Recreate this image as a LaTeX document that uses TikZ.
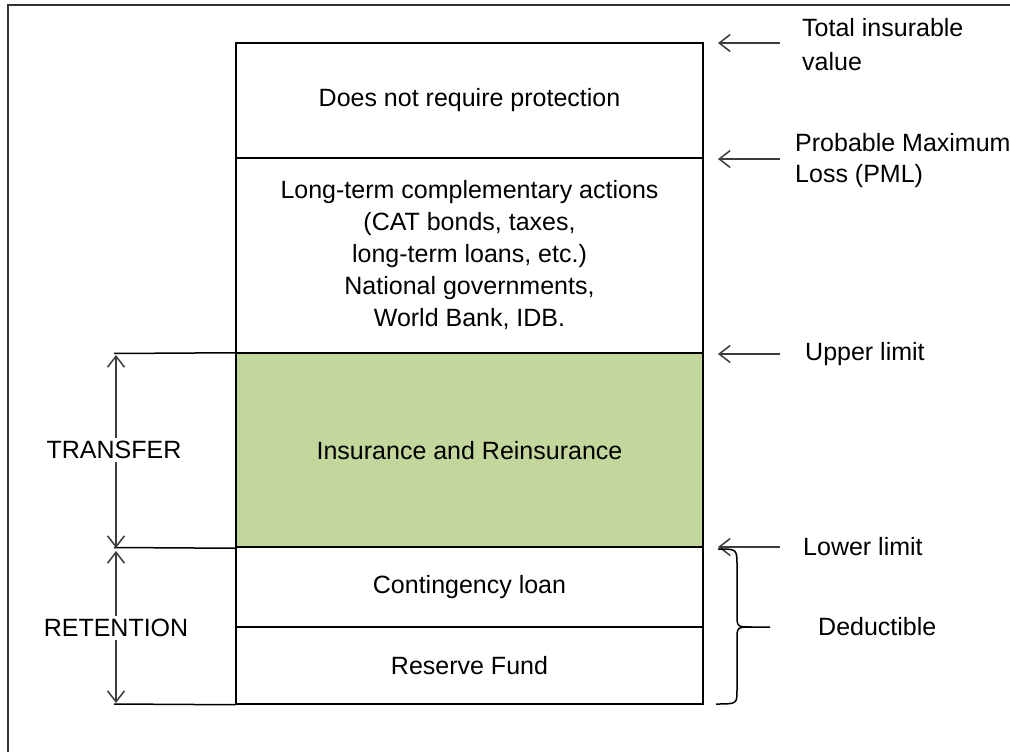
\documentclass[tikz,border=0pt]{standalone}
\usepackage{fontspec}
\setmainfont{Liberation Sans}
\usetikzlibrary{arrows.meta}
\definecolor{insgreen}{HTML}{C3D69B}
\definecolor{arrowgrey}{HTML}{3C3C3C}
\begin{document}
\begin{tikzpicture}[x=1pt,y=-1pt,
  every node/.style={font=\fontsize{25}{32}\selectfont},
  layer/.style={draw, line width=1.5, minimum width=467, inner sep=0, align=center},
  pointer/.style={draw=arrowgrey, line width=1.5, -{Straight Barb[length=11,width=17,line width=1.5]}},
  span/.style={draw=arrowgrey, line width=1.5, -{Straight Barb[length=11,width=17,line width=1.5]}},
  sidelabel/.style={anchor=west, align=left, inner sep=0},
  bracket/.style={draw, line width=1.5}]
\useasboundingbox (0,0) rectangle (1010,752);
% outer frame (runs off the page to the right and below)
\draw[line width=2, draw=black!80] (8,760) -- (8,5) -- (1020,5);

% stacked layers of the risk column
\node[layer, minimum height=115] (free) at (469.5,100.5) {Does not require protection};
\node[layer, minimum height=195] (lt) at (469.5,255.5)
  {Long-term complementary actions\\(CAT bonds, taxes,\\long-term loans, etc.)\\National governments,\\World Bank, IDB.};
\node[layer, minimum height=194, fill=insgreen] (ins) at (469.5,450.5) {Insurance and Reinsurance};
\node[layer, minimum height=80] (cont) at (469.5,587) {Contingency loan};
\node[layer, minimum height=77] (res) at (469.5,665.5) {Reserve Fund};

% left extension lines
\coordinate (lup) at (114,353.5);
\coordinate (lmid) at (114,547.5);
\coordinate (llow) at (114,704);
\draw[line width=1.5] (lup) -- (ins.north west);
\draw[line width=1.5] (lmid) -- (ins.south west);
\draw[line width=1.5] (llow) -- (res.south west);

% transfer / retention spans
\node (transfer) at (114,450) {TRANSFER};
\node (retention) at (116,628) {RETENTION};
\coordinate (tTop) at (116,355);
\coordinate (tBot) at (116,548);
\coordinate (rTop) at (116,551);
\coordinate (rBot) at (116,703);
\draw[span] (transfer.north -| tTop) -- (tTop);
\draw[span] (transfer.south -| tBot) -- (tBot);
\draw[span] (retention.north -| rTop) -- (rTop);
\draw[span] (retention.south -| rBot) -- (rBot);

% right-hand markers
\coordinate (a1) at (780,43);  \coordinate (b1) at (718,43);
\coordinate (a2) at (780,159); \coordinate (b2) at (718,159);
\coordinate (a3) at (780,354); \coordinate (b3) at (718,354);
\coordinate (a4) at (780,547); \coordinate (b4) at (718,547);
\draw[pointer] (a1) -- (b1);
\draw[pointer] (a2) -- (b2);
\draw[pointer] (a3) -- (b3);
\draw[pointer] (a4) -- (b4);
\node[sidelabel, font=\fontsize{25}{34}\selectfont] (tiv) at (802,45) {Total insurable\\value};
\node[sidelabel, font=\fontsize{25}{31}\selectfont] (pml) at (795,161) {Probable Maximum\\Loss (PML)};
\node[sidelabel] (upper) at (805,354) {Upper limit};
\node[sidelabel] (lower) at (803,547) {Lower limit};

% deductible bracket
\coordinate (bt) at (718,549);
\coordinate (bb) at (716,704);
\coordinate (btip) at (770,627);
\draw[bracket] (bt) .. controls (737,549) .. (737,566) -- (737,614)
  .. controls (737,627) .. (752,627) -- (btip);
\draw[bracket] (752,627) .. controls (737,627) .. (737,640) -- (737,690)
  .. controls (737,704) .. (bb);
\node[sidelabel] (ded) at (818,627) {Deductible};
\end{tikzpicture}
\end{document}
